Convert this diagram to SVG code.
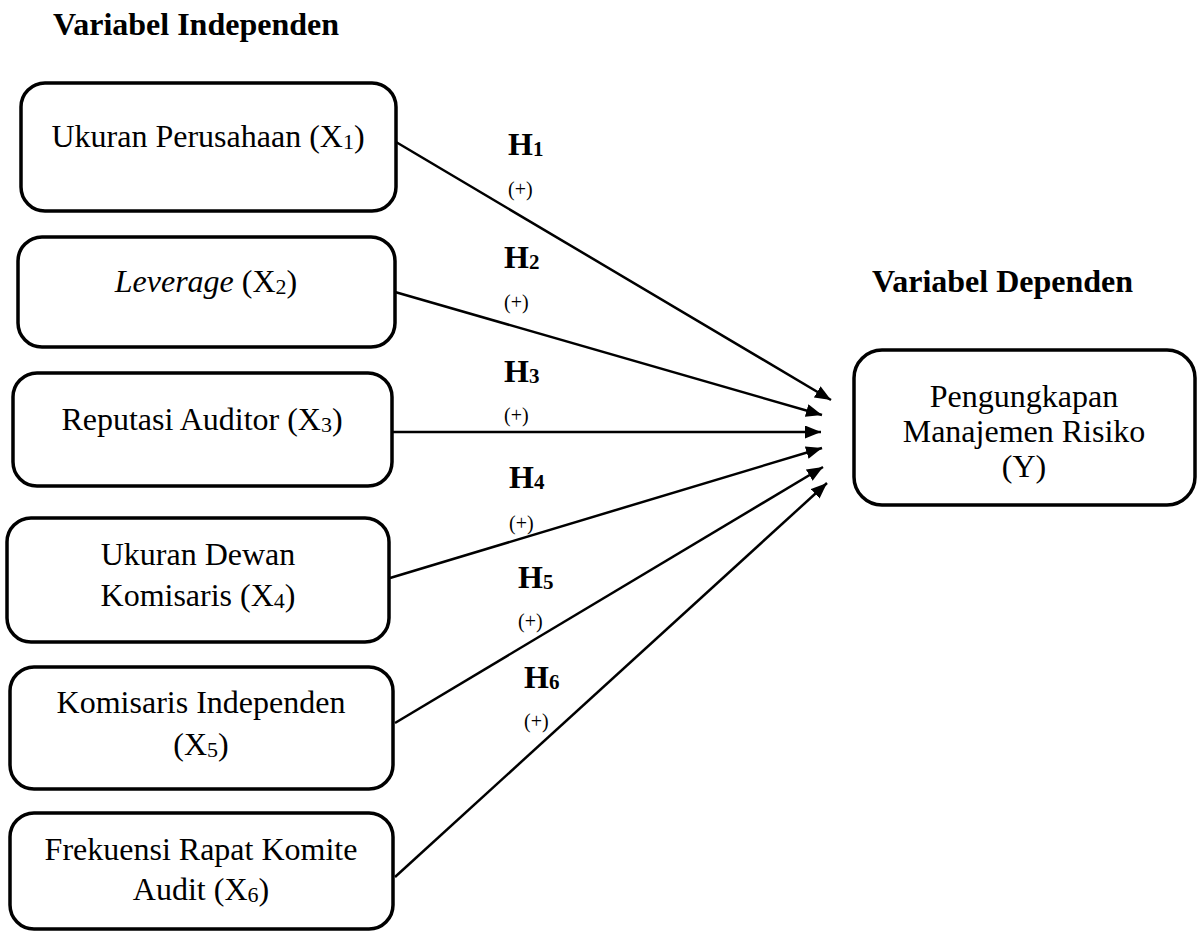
<svg xmlns="http://www.w3.org/2000/svg" width="1200" height="931" viewBox="0 0 1200 931">
<defs>
<style>
.box{fill:#fff;stroke:#000;stroke-width:3.5}
.t{font-family:"Liberation Serif","Times New Roman",serif;font-size:32px;fill:#000}
.c{text-anchor:middle}
.b{font-weight:bold}
.sub{font-size:22px}
.hs{font-size:21px}
.p{font-family:"Liberation Serif","Times New Roman",serif;font-size:20px;fill:#000}
.ln{stroke:#000;stroke-width:2.5;fill:none;marker-end:url(#ah)}
</style>
<marker id="ah" markerUnits="userSpaceOnUse" markerWidth="18" markerHeight="14" refX="16" refY="6.5" orient="auto">
<path d="M0,0 L16,6.5 L0,13 z" fill="#000"/>
</marker>
</defs>
<rect width="1200" height="931" fill="#fff"/>

<text class="t b" x="53" y="35">Variabel Independen</text>
<text class="t b" x="872" y="292">Variabel Dependen</text>

<g id="x1">
<rect class="box" x="21" y="83" width="375" height="128" rx="24"/>
<text class="t c" x="208" y="147">Ukuran Perusahaan (X<tspan class="sub" baseline-shift="-2">1</tspan>)</text>
</g>
<g id="x2">
<rect class="box" x="18" y="237" width="377" height="110" rx="24"/>
<text class="t c" x="206" y="292"><tspan font-style="italic">Leverage</tspan> (X<tspan class="sub" baseline-shift="-2">2</tspan>)</text>
</g>
<g id="x3">
<rect class="box" x="13" y="373" width="379" height="113" rx="24"/>
<text class="t c" x="202" y="430">Reputasi Auditor (X<tspan class="sub" baseline-shift="-2">3</tspan>)</text>
</g>
<g id="x4">
<rect class="box" x="7" y="518" width="382" height="124" rx="24"/>
<text class="t c" x="198" y="565">Ukuran Dewan</text>
<text class="t c" x="198" y="606">Komisaris (X<tspan class="sub" baseline-shift="-2">4</tspan>)</text>
</g>
<g id="x5">
<rect class="box" x="10" y="667" width="383" height="122" rx="24"/>
<text class="t c" x="201" y="713">Komisaris Independen</text>
<text class="t c" x="201" y="755">(X<tspan class="sub" baseline-shift="-2">5</tspan>)</text>
</g>
<g id="x6">
<rect class="box" x="10" y="813" width="383" height="116" rx="24"/>
<text class="t c" x="201" y="860">Frekuensi Rapat Komite</text>
<text class="t c" x="201" y="900">Audit (X<tspan class="sub" baseline-shift="-2">6</tspan>)</text>
</g>
<g id="y">
<rect class="box" x="854" y="350" width="341" height="155" rx="28"/>
<text class="t c" x="1024" y="407">Pengungkapan</text>
<text class="t c" x="1024" y="442">Manajemen Risiko</text>
<text class="t c" x="1024" y="477">(Y)</text>
</g>

<g id="connectors">
<line class="ln" x1="396" y1="142" x2="831" y2="400"/>
<line class="ln" x1="395" y1="292" x2="822" y2="415"/>
<line class="ln" x1="392" y1="432" x2="821" y2="432"/>
<line class="ln" x1="390" y1="578" x2="822" y2="448"/>
<line class="ln" x1="395" y1="723" x2="823" y2="467"/>
<line class="ln" x1="395" y1="877" x2="827" y2="483"/>
</g>

<g id="labels">
<text class="t b" x="508" y="155">H<tspan class="hs" baseline-shift="-1">1</tspan></text>
<text class="p" x="508" y="196">(+)</text>
<text class="t b" x="504" y="268">H<tspan class="hs" baseline-shift="-1">2</tspan></text>
<text class="p" x="504" y="309">(+)</text>
<text class="t b" x="504" y="382">H<tspan class="hs" baseline-shift="-1">3</tspan></text>
<text class="p" x="504" y="422">(+)</text>
<text class="t b" x="509" y="488">H<tspan class="hs" baseline-shift="-1">4</tspan></text>
<text class="p" x="509" y="530">(+)</text>
<text class="t b" x="518" y="588">H<tspan class="hs" baseline-shift="-1">5</tspan></text>
<text class="p" x="518" y="628">(+)</text>
<text class="t b" x="524" y="688">H<tspan class="hs" baseline-shift="-1">6</tspan></text>
<text class="p" x="524" y="728">(+)</text>
</g>
</svg>
